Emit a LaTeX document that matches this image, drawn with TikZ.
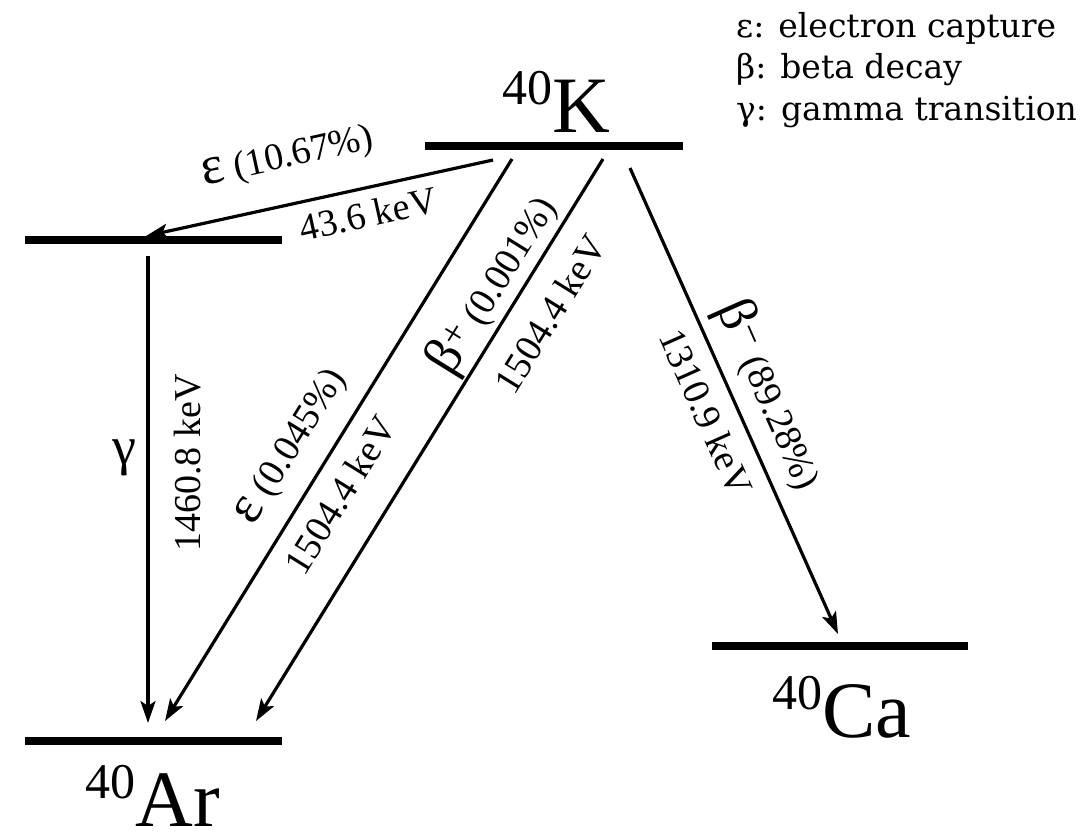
\documentclass[tikz,border=0pt]{standalone}
\usepackage{fontspec}
\setmainfont{Liberation Serif}
\newfontfamily\legfont{DejaVu Serif}
\usetikzlibrary{arrows.meta}
\tikzset{
  level/.style={line width=8pt},
  trans/.style={line width=3.2pt,-{Stealth[length=22pt,width=15pt,inset=5pt]}},
  lbl/.style={inner sep=0pt,font=\fontsize{38}{38}\selectfont},
  big/.style={inner sep=0pt},
  nuc/.style={inner sep=0pt,anchor=base,font=\fontsize{80}{80}\selectfont},
  leg/.style={inner sep=0pt,anchor=west,font=\legfont\fontsize{33}{33}\selectfont}
}
\newcommand{\gbig}[1]{{\fontsize{54}{54}\selectfont #1}}
\newcommand{\iso}[2]{{\fontsize{50}{50}\selectfont\raisebox{28pt}{#1}}#2}
\begin{document}
\begin{tikzpicture}[x=1pt,y=-1pt]
\useasboundingbox (0,0) rectangle (1089,831);
% levels
\draw[level] (425,146) -- (683,146);
\draw[level] (25,240) -- (282,240);
\draw[level] (25,741) -- (282,741);
\draw[level] (712,646) -- (968,646);
% nuclide labels
\node[nuc] (K) at (556,132) {\iso{40}{K}};
\node[nuc] (Ar) at (153,826) {\iso{40}{Ar}};
\node[nuc] (Ca) at (842,737) {\iso{40}{Ca}};
% coordinates
\coordinate (k1) at (493,160);
\coordinate (m1) at (146,236);
\coordinate (m2) at (148,256);
\coordinate (a1) at (148,723);
\coordinate (k2) at (512,159);
\coordinate (a2) at (165,721);
\coordinate (k3) at (603,159);
\coordinate (a3) at (256,721);
\coordinate (k4) at (630,168);
\coordinate (c1) at (838,634);
% transitions
\draw[trans] (k1) -- (m1);
\draw[trans] (m2) -- (a1);
\draw[trans] (k2) -- (a2);
\draw[trans] (k3) -- (a3);
\draw[trans] (k4) -- (c1);
% labels
\node[lbl,rotate=12.4] (l1) at (288,158) {\gbig{ε} (10.67\%)};
\node[lbl,rotate=12.4] (l2) at (368,214) {43.6 keV};
\node[lbl,rotate=90] (l3) at (188,463) {1460.8 keV};
\node[big] (l4) at (124,458) {\gbig{γ}};
\node[lbl,rotate=58.2] (l5) at (292,447) {\gbig{ε} (0.045\%)};
\node[lbl,rotate=58.2] (l6) at (340,495) {1504.4 keV};
\node[lbl,rotate=58.2] (l7) at (493,285) {\gbig{β\textsuperscript{+}} (0.001\%)};
\node[lbl,rotate=58.2] (l8) at (550,314) {1504.4 keV};
\node[lbl,rotate=-66] (l9) at (770,395) {\gbig{β\textsuperscript{−}} (89.28\%)};
\node[lbl,rotate=-66] (l10) at (706,412) {1310.9 keV};
% legend
\node[leg] (g1) at (736,28) {ε: electron capture};
\node[leg] (g2) at (736,70) {β: beta decay};
\node[leg] (g3) at (736,112) {γ: gamma transition};
\end{tikzpicture}
\end{document}
